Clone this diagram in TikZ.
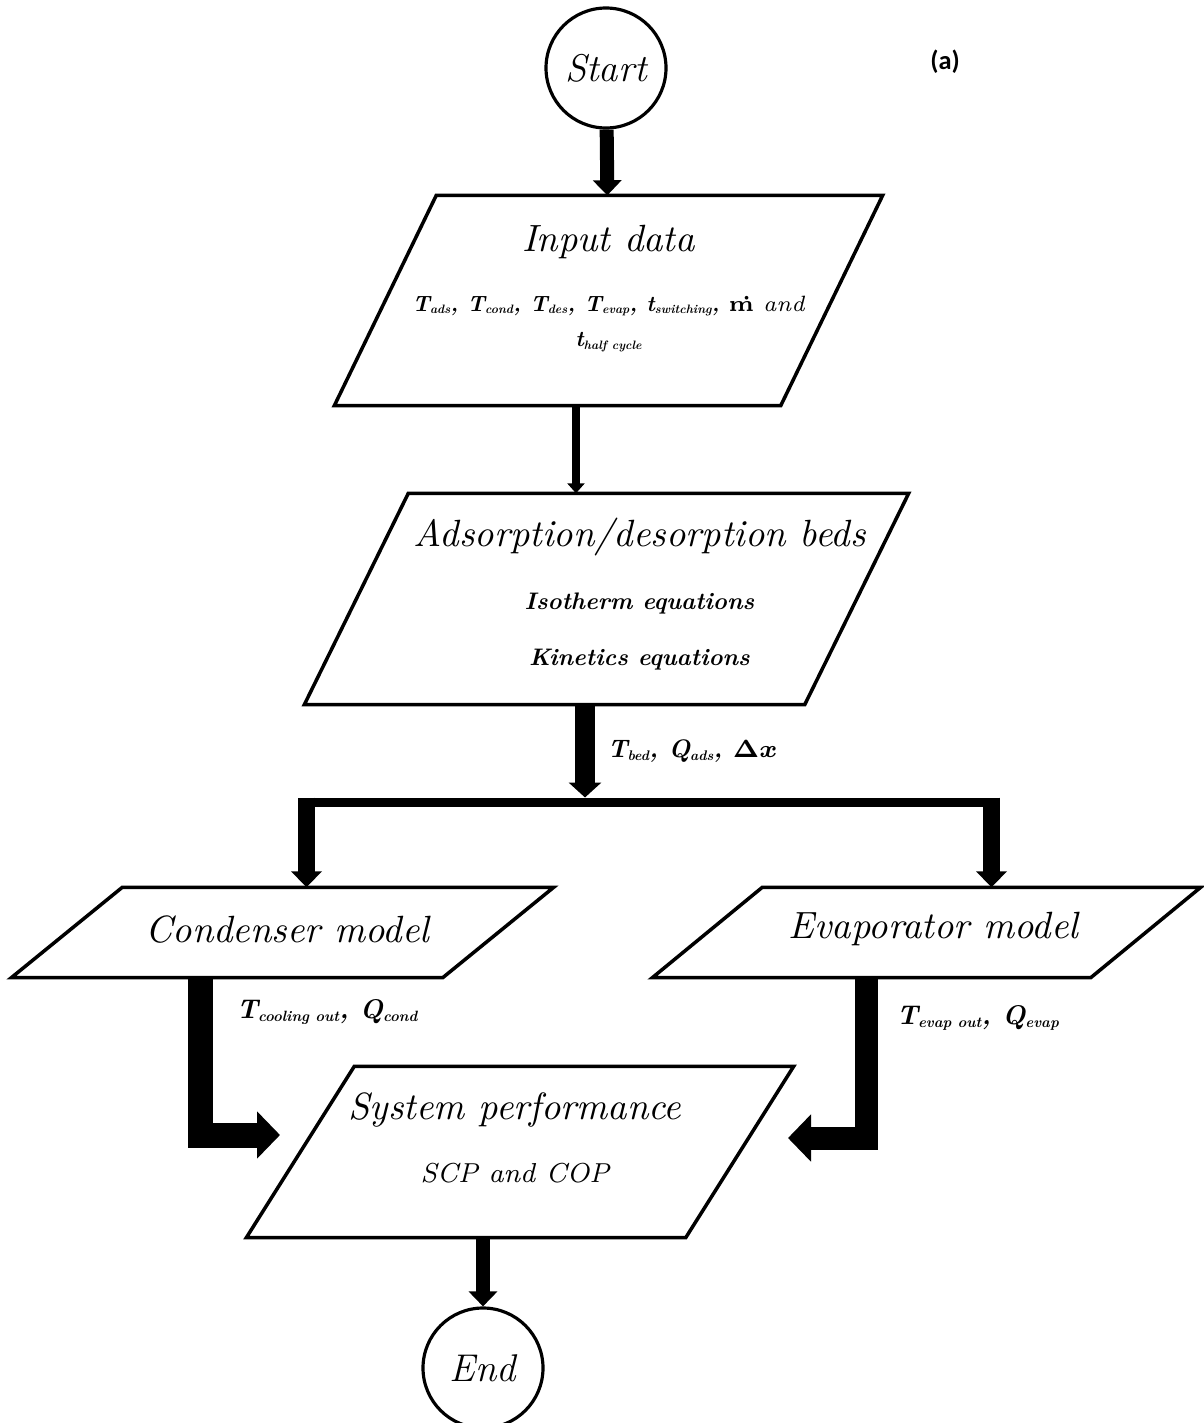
\documentclass[tikz,border=0pt]{standalone}
\usepackage{amsmath}
\usepackage{amssymb}
\usepackage{fontspec}
\newfontfamily\carlito{Carlito}
\usepackage{tikz}
\usetikzlibrary{arrows.meta}

\makeatletter
\newcommand{\lowtxt}[1]{\raisebox{-0.25ex}{\fontsize{\fpeval{0.55*\f@size}}{1}\selectfont #1}}
\makeatother

\begin{document}
\begin{tikzpicture}[
  box/.style 2 args={rectangle, minimum width=#1cm, minimum height=#2cm, inner sep=0pt},
  term/.style={circle, draw, line width=0.9pt, minimum size=1.2cm, inner sep=0pt, font=\fontsize{11}{13}\selectfont\itshape},
  ttl/.style={font=\fontsize{10.8}{13}\selectfont\itshape, align=center, inner sep=0pt},
  arr/.style={draw, line width=0.14cm, -{Triangle[width=0.28cm,length=0.15cm]}},
  big/.style={draw, line width=0.25cm, line join=miter, -{Triangle[width=0.46cm,length=0.23cm]}},
  lbl/.style={font=\fontsize{7.7}{9}\selectfont\bfseries\itshape, inner sep=1pt}
]
\useasboundingbox (0,0) rectangle (12.03,-14.23);

\node[term] (start) at (6.06,-0.68) {Start};
\node[font=\carlito\bfseries\fontsize{7.5}{9}\selectfont] (tag) at (9.45,-0.62) {(a)};

% parallelogram boxes
\node[box={5.47}{2.09}] (in) at (6.085,-3.005) {};
\node[box={6.03}{2.10}] (ads) at (6.065,-5.99) {};
\node[box={5.41}{0.89}] (cond) at (2.825,-9.325) {};
\node[box={5.47}{0.89}] (evap) at (9.265,-9.325) {};
\node[box={5.46}{1.70}] (sys) at (5.20,-11.52) {};
\foreach \n/\s in {in/1.02cm, ads/1.04cm, cond/1.11cm, evap/1.10cm, sys/1.08cm}
  \draw[line width=1pt, line join=miter] ([xshift=\s]\n.north west) -- (\n.north east) -- ([xshift=-\s]\n.south east) -- (\n.south west) -- cycle;

\node[ttl] (intext) at ([yshift=0.12cm]in.center) {%
  Input data\\[0.14cm]
  {\fontsize{6.3}{8}\selectfont\bfseries\itshape T\lowtxt{ads}, T\lowtxt{cond}, T\lowtxt{des}, T\lowtxt{evap}, t\lowtxt{switching}, \textup{\.{m}} {\mdseries and}}\\[-0.1cm]
  {\fontsize{6.3}{8}\selectfont\bfseries\itshape t\lowtxt{half cycle}}};

\node[ttl] (adstext) at ([xshift=0.33cm, yshift=0.05cm]ads.center) {%
  Adsorption/desorption beds\\[0.17cm]
  {\fontsize{6.8}{8}\selectfont\bfseries\itshape Isotherm equations}\\[0.1cm]
  {\fontsize{6.8}{8}\selectfont\bfseries\itshape Kinetics equations}};

\node[ttl] (condtext) at ([xshift=0.05cm, yshift=0.03cm]cond.center) {Condenser model};
\node[ttl] (evaptext) at ([xshift=0.07cm, yshift=0.03cm]evap.center) {Evaporator model};

\node[ttl] (systext) at ([xshift=-0.05cm, yshift=0.14cm]sys.center) {%
  System performance\\[0.17cm]
  {\fontsize{7.8}{9.5}\selectfont\itshape SCP and COP}};

\node[term] (stop) at (4.83,-13.68) {End};

% helper points
\coordinate (x1) at (5.76,0);
\coordinate (fork) at (5.85,-7.975);
\coordinate (forkL) at (3.065,-7.975);
\coordinate (forkR) at (9.915,-7.975);
\coordinate (legC) at (2.005,-11.35);
\coordinate (tipC) at (2.80,-11.35);
\coordinate (legE) at (8.665,-11.38);
\coordinate (tipE) at (7.88,-11.38);

\draw[arr] (start) -- (in);
\draw[arr, line width=0.08cm, -{Triangle[width=0.17cm,length=0.1cm]}] (in.south -| x1) -- (ads.north -| x1);
\draw[arr, line width=0.2cm, -{Triangle[width=0.32cm,length=0.15cm]}] (ads.south -| fork) -- node[lbl, right=0.09cm, font=\fontsize{7.2}{9}\selectfont\bfseries\itshape] (bedlbl) {T\lowtxt{bed}, Q\lowtxt{ads}, $\boldsymbol{\Delta x}$} (fork);
\draw[line width=0.09cm] ([shift={(-0.085,-0.045)}]forkL) -- ([shift={(0.085,-0.045)}]forkR);
\draw[arr, line width=0.17cm, -{Triangle[width=0.3cm,length=0.16cm]}] (forkL) -- (cond.north -| forkL);
\draw[arr, line width=0.17cm, -{Triangle[width=0.3cm,length=0.16cm]}] (forkR) -- (evap.north -| forkR);

\draw[big] (cond.south -| legC) |- node[lbl, pos=0.11, right=0.2cm] (condlbl) {T\lowtxt{cooling out}, Q\lowtxt{cond}} (tipC);
\draw[big, line width=0.23cm] (evap.south -| legE) |- node[lbl, pos=0.127, right=0.15cm] (evaplbl) {T\lowtxt{evap out}, Q\lowtxt{evap}} (tipE);

\draw[arr] (sys.south -| stop) -- (stop);
\end{tikzpicture}
\end{document}
